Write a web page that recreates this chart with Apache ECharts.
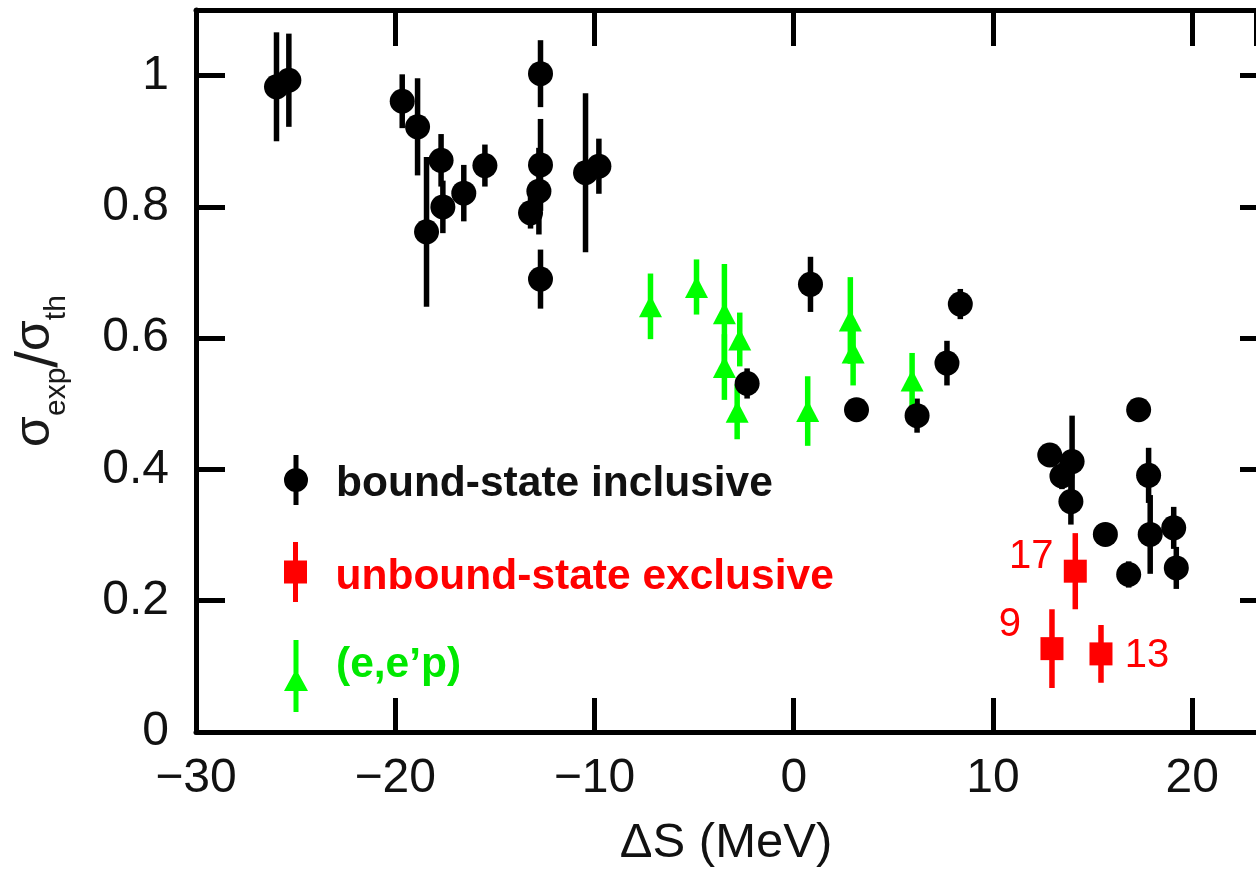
<!DOCTYPE html>
<html>
<head>
<meta charset="utf-8">
<script src="https://cdn.jsdelivr.net/npm/echarts@6/dist/echarts.min.js"></script>
<style>
html,body{margin:0;padding:0;background:#fff;overflow:hidden;}
#chart{width:1256px;height:873px;}
</style>
</head>
<body>
<div id="chart"></div>
<script>
// ---- data ----
const boundX = [-25.96,-25.34,-19.65,-18.88,-17.70,-18.43,-17.61,-16.56,-15.50,-12.71,-12.71,-12.79,-13.21,-12.71,-10.45,-9.78,-2.34,0.84,3.15,6.19,7.69,8.36,12.85,13.97,13.46,13.91,17.31,17.81,17.89,15.64,16.81,19.07,19.20];
const boundY = [0.983,0.993,0.961,0.922,0.871,0.762,0.800,0.821,0.863,1.003,0.864,0.824,0.791,0.690,0.852,0.862,0.531,0.682,0.491,0.482,0.562,0.652,0.422,0.412,0.390,0.351,0.491,0.391,0.301,0.301,0.240,0.311,0.250];
const boundErr = [0.083,0.071,0.041,0.074,0.040,0.114,0.040,0.043,0.032,0.051,0.070,0.066,0.024,0.045,0.121,0.042,0.023,0.042,0.010,0.026,0.034,0.023,0.010,0.070,0.020,0.035,0.010,0.042,0.060,0.010,0.020,0.032,0.032];

const unboundX = [12.96,14.13,15.42];
const unboundY = [0.127,0.245,0.119];
const unboundErr = [0.060,0.058,0.044];
const unboundLabels = ['9','17','13'];

const eepX = [-7.19,-4.88,-3.48,-3.48,-2.71,-2.84,0.70,2.84,2.98,5.94];
const eepY = [0.6485,0.678,0.638,0.556,0.598,0.488,0.489,0.627,0.578,0.5355];
const eepErr = [0.050,0.042,0.075,0.050,0.041,0.042,0.053,0.066,0.050,0.042];

const xTickValues = [-30,-20,-10,0,10,20];
const xTickLabels = ['\u221230','\u221220','\u221210','0','10','20'];
const yTickValues = [0,0.2,0.4,0.6,0.8,1];
const yTickLabels = ['0','0.2','0.4','0.6','0.8','1'];

const seriesNames = ['bound-state inclusive','unbound-state exclusive','(e,e\u2019p)'];
const xTitle = '\u0394S (MeV)';

// ---- styling / construction ----
const BLACK = '#000000', RED = '#ff0000', GREEN = '#00ff00', GREEN_TXT = '#00e800';
const FONT = '"Liberation Sans", Arial, Helvetica, sans-serif';

function errSeries(name, xs, ys, es, color) {
  return {
    type: 'custom', name: name, z: 2,
    data: xs.map((x, i) => [x, ys[i], es[i]]),
    encode: { x: 0, y: 1 },
    renderItem: function (params, api) {
      const x = api.value(0), y = api.value(1), e = api.value(2);
      const p1 = api.coord([x, y + e]);
      const p2 = api.coord([x, y - e]);
      return { type: 'rect', shape: { x: p1[0] - 2.75, y: p1[1], width: 5.5, height: p2[1] - p1[1] }, style: { fill: color } };
    },
    silent: true
  };
}

function fmtX(v) {
  const i = xTickValues.findIndex(t => Math.abs(t - v) < 1e-6);
  return i >= 0 ? xTickLabels[i] : '';
}
function fmtY(v) {
  const i = yTickValues.findIndex(t => Math.abs(t - v) < 1e-6);
  return i >= 0 ? yTickLabels[i] : '';
}

const labelOffsets = [[-42, -24], [-44, -14], [46, 2]];

const axisLineStyle = { show: true, onZero: false, lineStyle: { color: BLACK, width: 5 } };

const legendText = { fontSize: 42.5, fontWeight: 'bold', fontFamily: FONT };

const option = {
  animation: false,
  backgroundColor: '#ffffff',
  textStyle: { fontFamily: FONT },
  grid: { left: 196, right: 0, top: 10, bottom: 135, containLabel: false },
  xAxis: [
    {
      type: 'value', position: 'bottom', min: -30, max: 23.2, interval: 10,
      axisLine: axisLineStyle,
      axisTick: { inside: true, length: 34, lineStyle: { color: BLACK, width: 5 } },
      axisLabel: { fontSize: 48, color: '#111', margin: 23, formatter: fmtX, showMaxLabel: false, fontFamily: FONT },
      splitLine: { show: false },
      name: xTitle, nameLocation: 'middle', nameGap: 87,
      nameTextStyle: { fontSize: 49, color: '#111', fontFamily: FONT }
    },
    {
      type: 'value', position: 'top', min: -30, max: 23.2, interval: 10,
      axisLine: axisLineStyle,
      axisTick: { inside: true, length: 36, lineStyle: { color: BLACK, width: 5 } },
      axisLabel: { show: false }, splitLine: { show: false }
    }
  ],
  yAxis: [
    {
      type: 'value', position: 'left', min: 0, max: 1.1, interval: 0.2,
      axisLine: axisLineStyle,
      axisTick: { inside: true, length: 29, lineStyle: { color: BLACK, width: 5 } },
      axisLabel: { fontSize: 48, color: '#111', margin: 27, formatter: fmtY, showMaxLabel: false, fontFamily: FONT },
      splitLine: { show: false },
      name: '{s|\u03c3}{sub|exp}{sl|/}{s|\u03c3}{sub|th}',
      nameLocation: 'middle', nameRotate: 90, nameGap: 124,
      nameTextStyle: {
        color: '#1a1a1a', fontFamily: FONT,
        rich: {
          s: { fontSize: 50, color: '#1a1a1a', fontFamily: FONT, verticalAlign: 'bottom', padding: [0, 0, 12, 0] },
          sub: { fontSize: 30, color: '#1a1a1a', fontFamily: FONT, verticalAlign: 'bottom' },
          sl: { fontSize: 60, color: '#1a1a1a', fontFamily: FONT, verticalAlign: 'bottom', padding: [0, 0, 2, 0] }
        }
      }
    },
    {
      type: 'value', position: 'right', min: 0, max: 1.1, interval: 0.2,
      axisLine: { show: false, onZero: false },
      axisTick: { show: true, inside: true, length: 16, lineStyle: { color: BLACK, width: 5 } },
      axisLabel: { show: false }, splitLine: { show: false }
    }
  ],
  legend: [
    {
      data: [{ name: seriesNames[0], icon: 'path://M9.5,0L14.5,0L14.5,50L9.5,50ZM0,25A12,12,0,1,1,24,25A12,12,0,1,1,0,25Z' }],
      left: 284, top: 455, padding: 0, orient: 'vertical', itemWidth: 70, itemHeight: 50,
      selectedMode: false, symbolKeepAspect: true,
      formatter: '{a|{name}}',
      textStyle: Object.assign({ color: '#111', rich: { a: Object.assign({ color: '#111', padding: [8, 0, 0, 0] }, legendText) } }, legendText)
    },
    {
      data: [{ name: seriesNames[1], icon: 'path://M9.5,0L14.5,0L14.5,60L9.5,60ZM0.5,18.5L23.5,18.5L23.5,41.5L0.5,41.5Z' }],
      left: 284, top: 542, padding: 0, orient: 'vertical', itemWidth: 70, itemHeight: 60,
      selectedMode: false, symbolKeepAspect: true,
      formatter: '{a|{name}}',
      textStyle: Object.assign({ color: RED, rich: { a: Object.assign({ color: RED, padding: [10, 0, 0, 0] }, legendText) } }, legendText)
    },
    {
      data: [{ name: seriesNames[2], icon: 'path://M9.5,0L14.5,0L14.5,72L9.5,72ZM12,29L24,51L0,51Z' }],
      left: 284, top: 640, padding: 0, orient: 'vertical', itemWidth: 70, itemHeight: 72,
      selectedMode: false, symbolKeepAspect: true,
      formatter: '{a|{name}}',
      textStyle: Object.assign({ color: GREEN_TXT, rich: { a: Object.assign({ color: GREEN_TXT, padding: [0, 0, 22, 0] }, legendText) } }, legendText)
    }
  ],
  series: [
    errSeries('bound-err', boundX, boundY, boundErr, BLACK),
    errSeries('eep-err', eepX, eepY, eepErr, GREEN),
    errSeries('unbound-err', unboundX, unboundY, unboundErr, RED),
    {
      type: 'scatter', name: seriesNames[0], z: 3,
      symbol: 'circle', symbolSize: 25,
      itemStyle: { color: BLACK, opacity: 1 },
      data: boundX.map((x, i) => [x, boundY[i]])
    },
    {
      type: 'scatter', name: seriesNames[2], z: 3,
      symbol: 'triangle', symbolSize: [23, 22],
      itemStyle: { color: GREEN, opacity: 1 },
      data: eepX.map((x, i) => [x, eepY[i]])
    },
    {
      type: 'scatter', name: seriesNames[1], z: 3,
      symbol: 'rect', symbolSize: 23,
      itemStyle: { color: RED, opacity: 1 },
      data: unboundX.map((x, i) => ({
        value: [x, unboundY[i]],
        label: { show: true, position: 'inside', formatter: unboundLabels[i], offset: labelOffsets[i],
                 fontSize: 40, color: RED, fontFamily: FONT }
      }))
    }
  ]
};

const chart = echarts.init(document.getElementById('chart'), null, { renderer: 'canvas' });
chart.setOption(option);
</script>
</body>
</html>
